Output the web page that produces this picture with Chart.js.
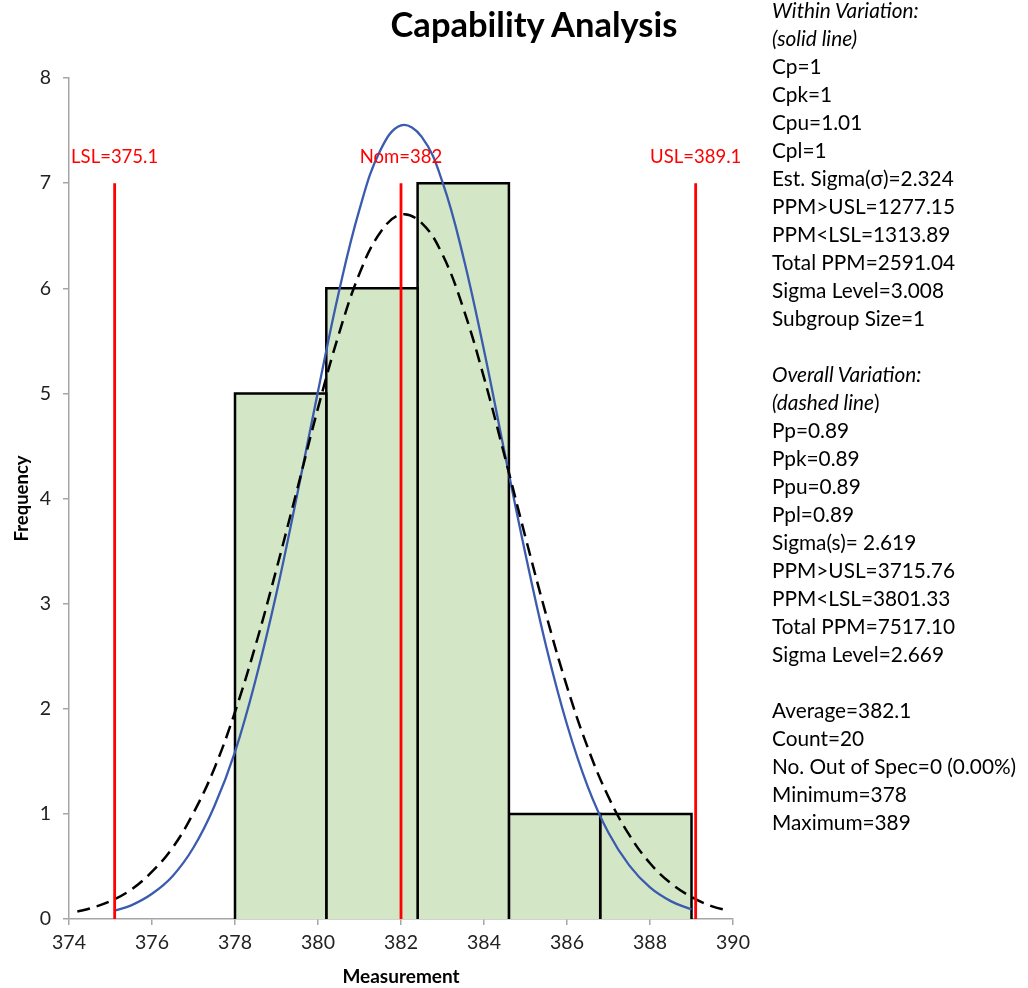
<!DOCTYPE html>
<html>
<head>
<meta charset="utf-8">
<title>Capability Analysis</title>
<script src="https://cdn.jsdelivr.net/npm/chart.js@4.4.1/dist/chart.umd.min.js"></script>
<style>
  body { margin: 0; background: #fff; font-family: Lato, "Open Sans", sans-serif; }
  #wrap { position: relative; width: 1028px; height: 988px; overflow: hidden; }
  #titulo { position: absolute; left: 334px; width: 400px; top: 3px; text-align: center;
            font-weight: bold; font-size: 34.5px; color: #000; }
  #stats { position: absolute; left: 772px; top: -4px; font-size: 20.8px; line-height: 28px; color: #000; white-space: nowrap; }
  #stats i { font-style: italic; }
</style>
</head>
<body>
<div id="wrap">
  <canvas id="grafico" width="1028" height="988"></canvas>
  <div id="titulo">Capability Analysis</div>
  <div id="stats"></div>
</div>
<script>
// histograma
const bordesClase = [378, 380.2, 382.4, 384.6, 386.8, 389];
const frecuencias = [5, 6, 7, 1, 1];

// limites de especificacion
const nombresEspec = ["LSL", "Nom", "USL"];
const valoresEspec = [375.1, 382, 389.1];
const alturaEspec = 7;

// curva normal "within" (linea continua)
const withinX = [375.1, 375.5, 376, 376.5, 377, 377.5, 378, 378.5, 379, 379.5, 380, 380.5, 381, 381.5, 382,
  382.5, 383, 383.5, 384, 384.5, 385, 385.5, 386, 386.5, 387, 387.5, 388, 388.5, 389];
const withinY = [0.08, 0.13, 0.24, 0.41, 0.68, 1.07, 1.59, 2.28, 3.10, 4.04, 5.02, 5.96, 6.75, 7.31, 7.55,
  7.44, 7.01, 6.30, 5.41, 4.43, 3.47, 2.59, 1.85, 1.26, 0.82, 0.51, 0.30, 0.17, 0.09];

// curva normal "overall" (linea discontinua)
const overallX = [374.2, 374.5, 375, 375.5, 376, 376.5, 377, 377.5, 378, 378.5, 379, 379.5, 380, 380.5, 381,
  381.5, 382, 382.5, 383, 383.5, 384, 384.5, 385, 385.5, 386, 386.5, 387, 387.5, 388, 388.5, 389, 389.5, 389.9];
const overallY = [0.07, 0.10, 0.17, 0.28, 0.45, 0.68, 1.01, 1.43, 1.97, 2.61, 3.33, 4.09, 4.86, 5.56, 6.14,
  6.53, 6.70, 6.62, 6.32, 5.81, 5.15, 4.40, 3.63, 2.89, 2.21, 1.63, 1.16, 0.80, 0.53, 0.34, 0.21, 0.12, 0.08];

// textos del panel derecho
const statsWithin = ["Cp=1", "Cpk=1", "Cpu=1.01", "Cpl=1", "Est. Sigma(σ)=2.324", "PPM>USL=1277.15",
  "PPM<LSL=1313.89", "Total PPM=2591.04", "Sigma Level=3.008", "Subgroup Size=1"];
const statsOverall = ["Pp=0.89", "Ppk=0.89", "Ppu=0.89", "Ppl=0.89", "Sigma(s)= 2.619", "PPM>USL=3715.76",
  "PPM<LSL=3801.33", "Total PPM=7517.10", "Sigma Level=2.669"];
const statsResumen = ["Average=382.1", "Count=20", "No. Out of Spec=0 (0.00%)", "Minimum=378", "Maximum=389"];

const fuente = "Lato, 'Open Sans', sans-serif";
const grisEje = "#A6A6A6";

function escapar(t) {
  return t.replace(/&/g, "&amp;").replace(/</g, "&lt;").replace(/>/g, "&gt;");
}

let html = "<i>Within Variation:</i><br><i>(solid line)</i><br>";
html += statsWithin.map(escapar).join("<br>") + "<br><br>";
html += "<i>Overall Variation:</i><br><i>(dashed line</i>)<br>";
html += statsOverall.map(escapar).join("<br>") + "<br><br>";
html += statsResumen.map(escapar).join("<br>");
document.getElementById("stats").innerHTML = html;

// cada barra como un contorno cerrado rellenado hasta cero
const datasetsBarras = frecuencias.map((f, i) => ({
  data: [
    { x: bordesClase[i], y: 0 },
    { x: bordesClase[i], y: f },
    { x: bordesClase[i + 1], y: f },
    { x: bordesClase[i + 1], y: 0 },
  ],
  showLine: true,
  fill: "origin",
  backgroundColor: "#D3E7C7",
  borderColor: "#000",
  borderWidth: 2.5,
  borderJoinStyle: "miter",
  pointRadius: 0,
  tension: 0,
  order: 10,
}));

const datasetsEspec = valoresEspec.map((v) => ({
  data: [{ x: v, y: 0 }, { x: v, y: alturaEspec }],
  showLine: true,
  borderColor: "#FF0000",
  borderWidth: 2.8,
  pointRadius: 0,
  order: 1,
}));

const datasetWithin = {
  data: withinX.map((x, i) => ({ x: x, y: withinY[i] })),
  showLine: true,
  borderColor: "#3A5BAE",
  borderWidth: 2.3,
  pointRadius: 0,
  tension: 0.4,
  order: 3,
};

const datasetOverall = {
  data: overallX.map((x, i) => ({ x: x, y: overallY[i] })),
  showLine: true,
  borderColor: "#000",
  borderWidth: 2.5,
  borderDash: [13, 7],
  pointRadius: 0,
  tension: 0.4,
  order: 2,
};

// etiquetas LSL / Nom / USL encima de las lineas rojas
const etiquetasEspec = {
  id: "etiquetasEspec",
  afterDatasetsDraw(chart) {
    const ctx = chart.ctx;
    const xs = chart.scales.x;
    const ys = chart.scales.y;
    ctx.save();
    ctx.fillStyle = "#FF0000";
    ctx.font = "18.5px " + fuente;
    ctx.textAlign = "center";
    ctx.textBaseline = "middle";
    valoresEspec.forEach((v, i) => {
      ctx.fillText(`${nombresEspec[i]}=${v}`, xs.getPixelForValue(v), ys.getPixelForValue(alturaEspec) - 26);
    });
    ctx.restore();
  },
};

const config = {
  type: "scatter",
  data: { datasets: [...datasetsBarras, datasetOverall, datasetWithin, ...datasetsEspec] },
  options: {
    responsive: false,
    animation: false,
    layout: { padding: { left: 0, right: 295, top: 78, bottom: 0 } },
    plugins: { legend: { display: false }, tooltip: { enabled: false } },
    scales: {
      x: {
        type: "linear",
        min: 374,
        max: 390,
        afterFit: (s) => { s.height = 69; },
        ticks: { stepSize: 2, color: "#222", padding: 6, font: { family: fuente, size: 19.5 } },
        grid: { drawOnChartArea: false, drawTicks: true, tickLength: 6, color: grisEje, lineWidth: 1.5 },
        border: { color: grisEje, width: 1.5 },
        title: { display: true, text: "Measurement", color: "#000", padding: { top: 0, bottom: 0 },
                 font: { family: fuente, size: 19, weight: "bold" } },
      },
      y: {
        min: 0,
        max: 8,
        afterFit: (s) => { s.width = 69; },
        ticks: { stepSize: 1, color: "#222", padding: 12, font: { family: fuente, size: 19.5 } },
        grid: { drawOnChartArea: false, drawTicks: true, tickLength: 6, color: grisEje, lineWidth: 1.5 },
        border: { color: grisEje, width: 1.5 },
        title: { display: true, text: "Frequency", color: "#000", padding: { top: 11, bottom: 0 },
                 font: { family: fuente, size: 18.5, weight: "bold" } },
      },
    },
  },
  plugins: [etiquetasEspec],
};

new Chart(document.getElementById("grafico"), config);
</script>
</body>
</html>
